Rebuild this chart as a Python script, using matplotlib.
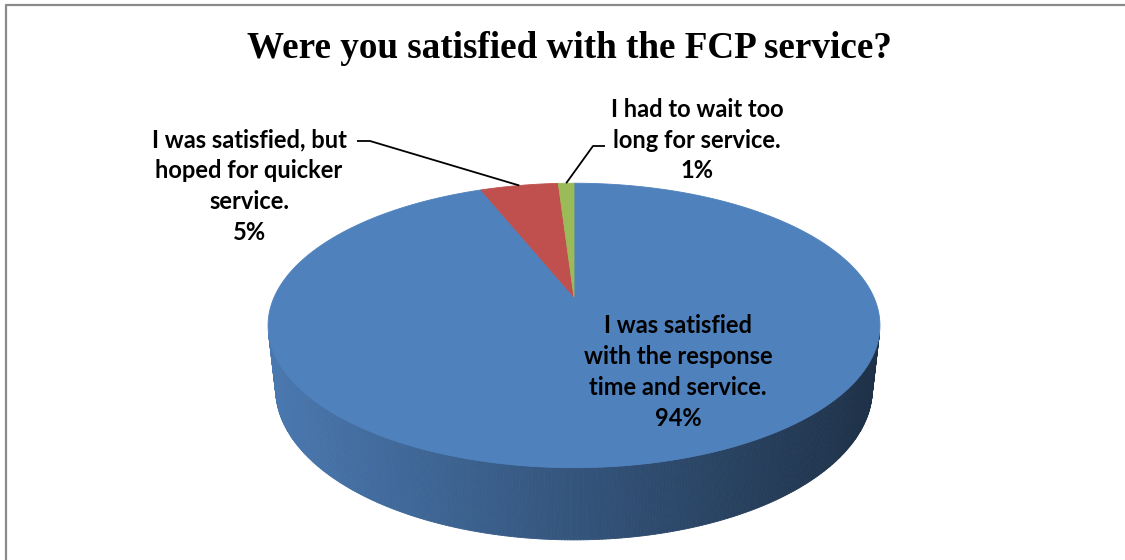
import matplotlib.pyplot as plt
from matplotlib.collections import PolyCollection
import matplotlib.colors as mc
import numpy as np

# survey answers, Excel-style order (clockwise from 12 o'clock)
categories = [
    "I was satisfied\nwith the response\ntime and service.",
    "I was satisfied, but\nhoped for quicker\nservice.",
    "I had to wait too\nlong for service.",
]
shares = [94, 5, 1]
slice_colors = ["#4F81BD", "#C0504D", "#9BBB59"]
title = "Were you satisfied with the FCP service?"

# label block centres (pixels) and leader lines: (label end, knee)
label_pos = [(678, 372), (249, 186), (697, 140)]
leaders = [None, ((357, 141), (370, 141)), ((605, 146), (593, 146))]

# simple perspective camera for the 3D pie
ELEV = np.radians(27.1)
DIST = 4.45
FOCAL = 1334.0
THICK = 0.2386
CX, CY = 574, 297
W, H = 1125, 560


def project(X, Y, Z):
    yc = Y * np.sin(ELEV) + Z * np.cos(ELEV)
    d = DIST + Y * np.cos(ELEV) - Z * np.sin(ELEV)
    return CX + FOCAL * X / d, CY - FOCAL * yc / d


def shade(color, x):
    # darken the side wall from left to right
    f = 0.93 - 0.55 * (x - (CX - 306)) / 612
    r, g, b = mc.to_rgb(color)
    return (r * f, g * f, b * f)


fig = plt.figure(figsize=(W / 100, H / 100), dpi=100)
ax = fig.add_axes([0, 0, 1, 1])
ax.set_xlim(0, W)
ax.set_ylim(H, 0)
ax.axis("off")

total = float(sum(shares))
cum = np.concatenate([[0], np.cumsum(shares)]) / total
bounds = np.radians(90 - 360 * cum)  # start angle, clockwise


def owner(t):
    # which slice a given angle belongs to
    frac = ((np.pi / 2 - t) % (2 * np.pi)) / (2 * np.pi)
    return int(np.searchsorted(cum, frac, side="right") - 1)


# side wall: only facets facing the camera
limit = -1 / (DIST * np.cos(ELEV))
ts = np.radians(np.arange(-180, 180.01, 0.5))
polys, cols = [], []
for t0, t1 in zip(ts[:-1], ts[1:]):
    tm = 0.5 * (t0 + t1)
    if np.sin(tm) >= limit:
        continue
    xa, ya = project(np.cos(t0), np.sin(t0), 0)
    xb, yb = project(np.cos(t1), np.sin(t1), 0)
    xc, yc = project(np.cos(t1), np.sin(t1), -THICK)
    xd, yd = project(np.cos(t0), np.sin(t0), -THICK)
    polys.append([(xa, ya), (xb, yb), (xc, yc), (xd, yd)])
    c = shade(slice_colors[min(owner(tm), len(shares) - 1)], 0.5 * (xa + xb))
    cols.append(c)
ax.add_collection(PolyCollection(polys, facecolors=cols, edgecolors=cols, linewidths=0.6))

# top face wedges
for i, color in enumerate(slice_colors):
    tt = np.linspace(bounds[i], bounds[i + 1], 200)
    px, py = project(np.cos(tt), np.sin(tt), 0)
    ox, oy = project(0, 0, 0)
    ax.fill(np.r_[ox, px], np.r_[oy, py], facecolor=color, edgecolor=color, lw=0.6)

# data labels
font = dict(family="Lato", weight="bold", size=17)
for i, (name, val) in enumerate(zip(categories, shares)):
    lx, ly = label_pos[i]
    ax.text(lx, ly, f"{name}\n{val}%", ha="center", va="center",
            multialignment="center", linespacing=1.42, **font)
    if leaders[i] is not None:
        tm = 0.5 * (bounds[i] + bounds[i + 1])
        ex, ey = project(np.cos(tm), np.sin(tm), 0)
        (sx, sy), (kx, ky) = leaders[i]
        ax.plot([sx, kx, ex], [sy, ky, ey], color="black", lw=1.3,
                solid_capstyle="butt")

ax.text(569, 48, title, ha="center", va="center", family="Liberation Serif",
        weight="bold", size=26.7)

# chart area border (runs off the right and bottom)
ax.plot([6, 6, W + 5], [H + 5, 5, 5], color="#8a8a8a", lw=1.6)

fig.savefig("out.png", dpi=100)
